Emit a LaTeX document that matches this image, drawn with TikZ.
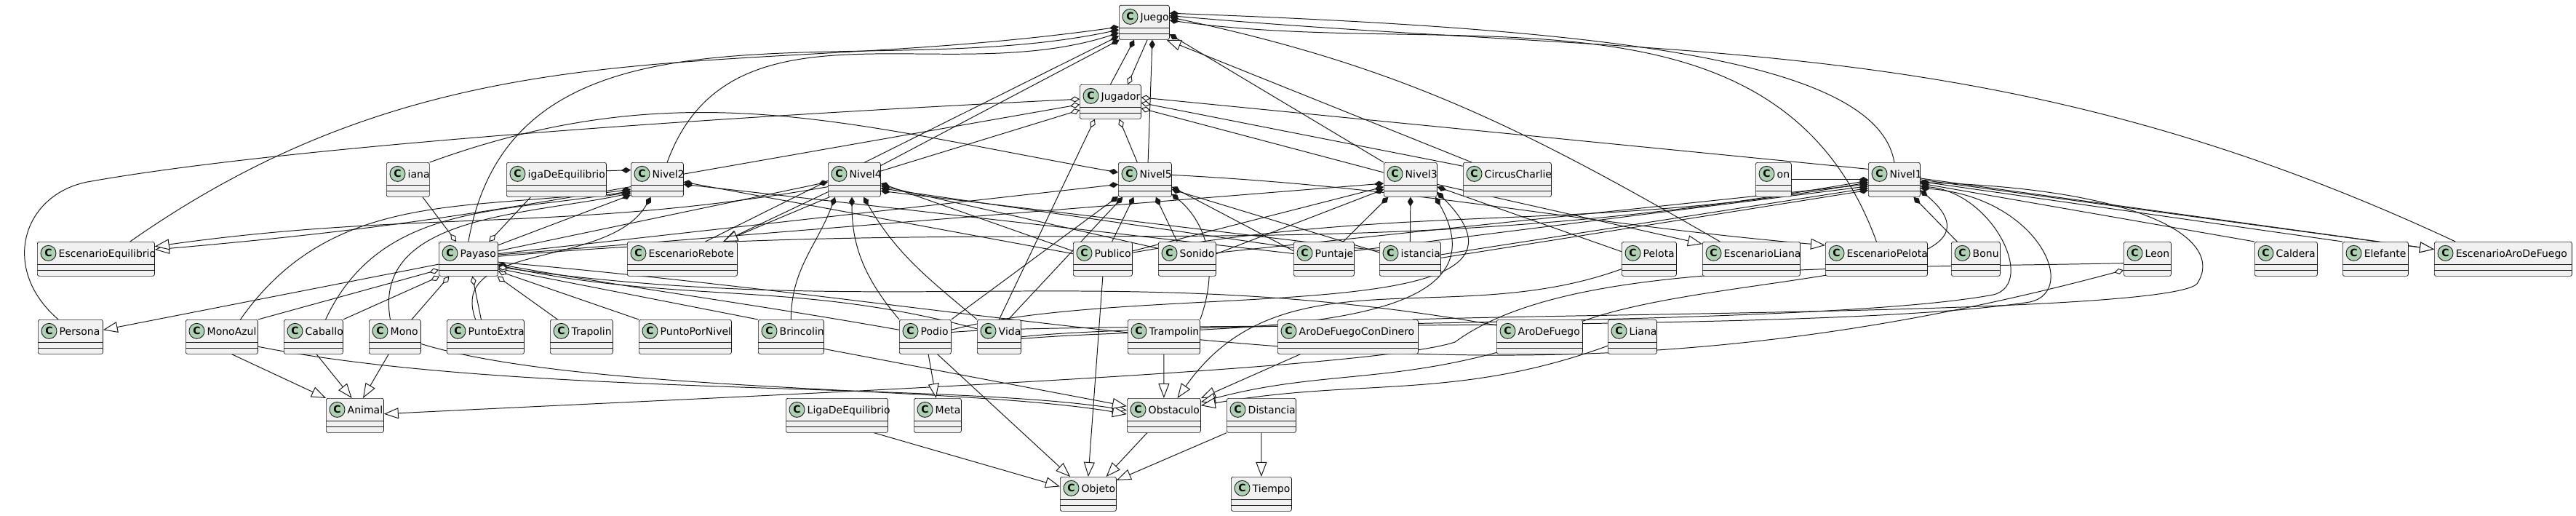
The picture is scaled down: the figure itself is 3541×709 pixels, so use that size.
\documentclass[tikz,border=0pt]{standalone}
\usepackage{fontspec}
\setmainfont{DejaVu Sans}
\usetikzlibrary{arrows.meta,calc}

\definecolor{boxfill}{HTML}{F1F1F1}
\definecolor{clsline}{HTML}{181818}
\definecolor{badgefill}{HTML}{ADD1B2}
\definecolor{edgecol}{HTML}{181818}
\newcommand{\clsfont}{\fontsize{3.98pt}{4.8pt}\selectfont}
\pgfdeclarelayer{bg}
\pgfdeclarelayer{edges}
\pgfsetlayers{bg,edges,main}

\begin{document}
\begin{tikzpicture}[x=0.01cm,y=-0.01cm,
  umlclass/.style={draw=clsline,line width=0.2pt,fill=boxfill,rounded corners=0.025cm,minimum width=#1,minimum height=0.47cm,inner sep=0pt,anchor=north west,
    path picture={
      \draw[clsline,line width=0.2pt] ($(path picture bounding box.north west)+(0,31)$) -- ($(path picture bounding box.north east)+(0,31)$);
      \draw[clsline,line width=0.2pt] ($(path picture bounding box.north west)+(0,39)$) -- ($(path picture bounding box.north east)+(0,39)$);
    },
    label={[cbadge]west:C}},
  cbadge/.style={circle,draw=clsline,line width=0.25pt,fill=badgefill,minimum size=0.21cm,inner sep=0pt,anchor=center,xshift=0.155cm,yshift=0.08cm,font=\clsfont\bfseries},
  cname/.style={anchor=west,xshift=0.29cm,yshift=0.065cm,inner sep=0pt,font=\clsfont,text height=0.105cm,text depth=0.03cm},
  edge/.style={draw=edgecol,line width=0.28pt},
  comp/.style={edge,{Diamond[length=0.13cm,width=0.08cm,fill=edgecol]}-},
  aggr/.style={edge,{Diamond[length=0.13cm,width=0.08cm,fill=white]}-},
  inh/.style={edge,-{Triangle[length=0.2cm,width=0.15cm,fill=white]}}]

\begin{pgfonlayer}{bg}
\fill[white] (0,0) rectangle (3541,709);
\end{pgfonlayer}
\useasboundingbox (0,0) rectangle (3541,709);

% top rows
\node[umlclass=0.69cm,label={[cname]west:Juego}] (Juego) at (1538,7) {};
\node[umlclass=0.84cm,label={[cname]west:Jugador}] (Jugador) at (1484,116) {};
\node[umlclass=0.59cm,label={[cname]west:iana}] (iana) at (531,223) {};
\node[umlclass=1.37cm,label={[cname]west:igaDeEquilibrio}] (igaDeEquilibrio) at (696,223) {};
\node[umlclass=0.72cm,label={[cname]west:Nivel2}] (Nivel2) at (867,223) {};
\node[umlclass=0.72cm,label={[cname]west:Nivel4}] (Nivel4) at (1138,223) {};
\node[umlclass=0.73cm,label={[cname]west:Nivel5}] (Nivel5) at (1537,223) {};
\node[umlclass=0.73cm,label={[cname]west:Nivel3}] (Nivel3) at (1902,223) {};
\node[umlclass=1.21cm,label={[cname]west:CircusCharlie}] (CircusCharlie) at (2011,223) {};
\node[umlclass=0.49cm,label={[cname]west:on}] (on) at (2413,223) {};
\node[umlclass=0.71cm,label={[cname]west:Nivel1}] (Nivel1) at (2568,223) {};

% middle row
\node[umlclass=1.61cm,label={[cname]west:EscenarioEquilibrio}] (EscenarioEquilibrio) at (51,332) {};
\node[umlclass=0.81cm,label={[cname]west:Payaso}] (Payaso) at (603,332) {};
\node[umlclass=1.51cm,label={[cname]west:EscenarioRebote}] (EscenarioRebote) at (862,332) {};
\node[umlclass=0.81cm,label={[cname]west:Publico}] (Publico) at (1475,332) {};
\node[umlclass=0.79cm,label={[cname]west:Sonido}] (Sonido) at (1592,332) {};
\node[umlclass=0.83cm,label={[cname]west:Puntaje}] (Puntaje) at (1778,332) {};
\node[umlclass=0.84cm,label={[cname]west:istancia}] (istancia) at (1896,332) {};
\node[umlclass=0.75cm,label={[cname]west:Pelota}] (Pelota) at (2229,332) {};
\node[umlclass=1.34cm,label={[cname]west:EscenarioLiana}] (EscenarioLiana) at (2340,332) {};
\node[umlclass=1.40cm,label={[cname]west:EscenarioPelota}] (EscenarioPelota) at (2509,332) {};
\node[umlclass=0.67cm,label={[cname]west:Bonu}] (Bonu) at (2682,332) {};
\node[umlclass=0.65cm,label={[cname]west:Leon}] (Leon) at (2919,332) {};
\node[umlclass=0.86cm,label={[cname]west:Caldera}] (Caldera) at (3099,332) {};
\node[umlclass=0.90cm,label={[cname]west:Elefante}] (Elefante) at (3220,332) {};
\node[umlclass=1.89cm,label={[cname]west:EscenarioAroDeFuego}] (EscenarioAroDeFuego) at (3346,332) {};

% lower rows
\node[umlclass=0.89cm,label={[cname]west:Persona}] (Persona) at (52,439) {};
\node[umlclass=0.99cm,label={[cname]west:MonoAzul}] (MonoAzul) at (255,439) {};
\node[umlclass=0.81cm,label={[cname]west:Caballo}] (Caballo) at (390,439) {};
\node[umlclass=0.71cm,label={[cname]west:Mono}] (Mono) at (507,439) {};
\node[umlclass=1.06cm,label={[cname]west:PuntoExtra}] (PuntoExtra) at (614,439) {};
\node[umlclass=0.86cm,label={[cname]west:Trapolin}] (Trapolin) at (756,439) {};
\node[umlclass=1.27cm,label={[cname]west:PuntoPorNivel}] (PuntoPorNivel) at (878,439) {};
\node[umlclass=0.90cm,label={[cname]west:Brincolin}] (Brincolin) at (1042,439) {};
\node[umlclass=0.71cm,label={[cname]west:Podio}] (Podio) at (1236,439) {};
\node[umlclass=0.60cm,label={[cname]west:Vida}] (Vida) at (1343,439) {};
\node[umlclass=0.99cm,label={[cname]west:Trampolin}] (Trampolin) at (1550,439) {};
\node[umlclass=1.93cm,label={[cname]west:AroDeFuegoConDinero}] (AroDeFuegoConDinero) at (1756,439) {};
\node[umlclass=1.18cm,label={[cname]west:AroDeFuego}] (AroDeFuego) at (2057,439) {};
\node[umlclass=0.67cm,label={[cname]west:Liana}] (Liana) at (2210,439) {};
\node[umlclass=0.79cm,label={[cname]west:Animal}] (Animal) at (448,547) {};
\node[umlclass=1.40cm,label={[cname]west:LigaDeEquilibrio}] (LigaDeEquilibrio) at (1080,547) {};
\node[umlclass=0.65cm,label={[cname]west:Meta}] (Meta) at (1256,547) {};
\node[umlclass=1.01cm,label={[cname]west:Obstaculo}] (Obstaculo) at (1549,547) {};
\node[umlclass=0.95cm,label={[cname]west:Distancia}] (Distancia) at (1686,547) {};
\node[umlclass=0.77cm,label={[cname]west:Objeto}] (Objeto) at (1457,655) {};
\node[umlclass=0.83cm,label={[cname]west:Tiempo}] (Tiempo) at (1692,655) {};

\begin{pgfonlayer}{edges}
% Juego
\draw[comp] (Juego.190) to[out=188,in=35] (EscenarioEquilibrio.27);
\draw[comp] (Juego.196) to[out=192,in=80] (Payaso.north);
\draw[comp] (Juego.202) to[out=198,in=70] (Nivel2.60);
\draw[comp] (Juego.208) -- (EscenarioRebote.37);
\draw[comp] (Juego.215) -- (Nivel4.28);
\draw[comp] (Juego.240) -- (Jugador.north);
\draw[aggr] (Jugador.45) -- (Juego.280);
\draw[comp] (Juego.295) -- (Nivel5.80);
\draw[comp] (Juego.335) -- (Nivel3.north west);
\draw[inh] (CircusCharlie.154) -- (Juego.322);
\draw[comp] (Juego.12) to[out=-12,in=150] (EscenarioLiana.151);
\draw[comp] (Juego.20) .. controls (2200,40) and (2580,80) .. (Nivel1.north);
\draw[comp] (Juego.5) to[out=-8,in=110] (EscenarioPelota.north);
\draw[comp] (Juego.15) to[out=-5,in=155] (EscenarioAroDeFuego.160);
% Jugador
\draw[aggr] (Jugador.175) .. controls (1000,160) and (400,200) .. (120,250) .. controls (30,268) and (0,370) .. (Persona.125);
\draw[aggr] (Jugador.185) -- (Nivel2.12);
\draw[aggr] (Jugador.195) -- (Nivel4.18);
\draw[aggr] (Jugador.8) -- (Nivel1.158);
\draw[aggr] (Jugador.-2) -- (CircusCharlie.163);
\draw[aggr] (Jugador.-12) -- (Nivel3.165);
\draw[aggr] (Jugador.228) -- (Vida.north);
\draw[aggr] (Jugador.-63) -- (Nivel5.114);
% Nivel1
\draw[comp] (Nivel1.west) -- (on.east);
\draw[comp] (Nivel1.-42) -- (Bonu.137);
\draw[comp] (Nivel1.-8) -- (Caldera.north west);
\draw[comp] (Nivel1.-4) -- (Elefante.north west);
\draw[inh] (Nivel1.0) -- (EscenarioAroDeFuego.172);
\draw[inh] (Nivel1.3) -- (EscenarioAroDeFuego.172);
\draw[comp] (Nivel1.198) -- (istancia.8);
\draw[comp] (Nivel1.202) -- (istancia.2);
\draw[comp] (Nivel1.194) -- (Puntaje.15);
\draw[comp] (Nivel1.190) -- (Sonido.12);
\draw[comp] (Nivel1.186) to[out=190,in=10] (Publico.12);
\draw[comp] (Nivel1.182) to[out=190,in=5] (Payaso.5);
\draw[comp] (Nivel1.-14) .. controls (2740,265) and (2800,390) .. (2740,405) .. controls (2500,450) and (1600,440) .. (Vida.east);
\draw[comp] (Nivel1.-18) .. controls (2800,270) and (2860,400) .. (2790,415) .. controls (2500,460) and (1500,440) .. (Podio.10);
\draw[comp] (Nivel1.-6) .. controls (2950,260) and (3060,330) .. (3020,390) .. controls (2980,430) and (2200,430) .. (AroDeFuegoConDinero.15);
\draw[comp] (Nivel1.-22) to[out=-40,in=20] (AroDeFuego.20);
% Nivel2
\draw[comp] (Nivel2.160) -- (igaDeEquilibrio.10);
\draw[comp] (Nivel2.205) -- (igaDeEquilibrio.-18);
\draw[inh] (Nivel2.195) to[out=190,in=5] (EscenarioEquilibrio.9);
\draw[comp] (Nivel2.210) -- (Payaso.25);
\draw[comp] (Nivel2.200) to[out=188,in=55] (MonoAzul.43);
\draw[comp] (Nivel2.203) to[out=190,in=65] (Caballo.55);
\draw[comp] (Nivel2.207) to[out=192,in=100] (Mono.105);
\draw[comp] (Nivel2.250) to[out=240,in=110] (PuntoExtra.120);
\draw[comp] (Nivel2.-5) -- (Publico.170);
\draw[comp] (Nivel2.-10) -- (Puntaje.170);
% Nivel4
\draw[inh] (Nivel4.205) -- (EscenarioRebote.23);
\draw[inh] (Nivel4.215) -- (EscenarioRebote.23);
\draw[inh] (Nivel4.195) to[out=190,in=8] (EscenarioEquilibrio.12);
\draw[comp] (Nivel4.222) to[out=250,in=90] (Brincolin.north);
\draw[comp] (Nivel4.262) to[out=270,in=130] (Podio.north west);
\draw[comp] (Nivel4.-62) to[out=-60,in=140] (Vida.north west);
\draw[comp] (Nivel4.185) -- (Payaso.15);
\draw[comp] (Nivel4.-8) -- (Publico.165);
\draw[comp] (Nivel4.-13) -- (Sonido.160);
\draw[comp] (Nivel4.-18) -- (Puntaje.160);
\draw[comp] (Nivel4.-23) -- (istancia.165);
% Nivel5
\draw[comp] (Nivel5.165) to[out=170,in=20] (iana.north east);
\draw[comp] (Nivel5.190) -- (Payaso.10);
\draw[comp] (Nivel5.237) -- (Publico.62);
\draw[comp] (Nivel5.-58) -- (Sonido.120);
\draw[comp] (Nivel5.212) -- (Podio.north east);
\draw[comp] (Nivel5.218) -- (Vida.62);
\draw[comp] (Nivel5.-28) to[out=-40,in=70] (Trampolin.north east);
\draw[comp] (Nivel5.-15) -- (Puntaje.165);
\draw[comp] (Nivel5.-20) -- (istancia.168);
\draw[inh] (Nivel5.10) to[out=-3,in=175] (EscenarioPelota.165);
% Nivel3
\draw[comp] (Nivel3.188) -- (Payaso.8);
\draw[comp] (Nivel3.195) -- (Publico.15);
\draw[comp] (Nivel3.200) -- (Sonido.10);
\draw[comp] (Nivel3.218) -- (Puntaje.42);
\draw[comp] (Nivel3.south) -- (istancia.north);
\draw[comp] (Nivel3.-15) -- (Pelota.165);
\draw[inh] (Nivel3.-10) -- (EscenarioLiana.163);
\draw[comp] (Nivel3.-35) to[out=-60,in=5] (Vida.-5);
\draw[comp] (Nivel3.-25) to[out=-45,in=15] (Podio.15);
% Payaso
\draw[aggr] (Payaso.125) -- (iana.-50);
\draw[aggr] (Payaso.40) -- (igaDeEquilibrio.-146);
\draw[inh] (Payaso.190) -- (Persona.12);
\draw[aggr] (Payaso.200) -- (MonoAzul.north east);
\draw[aggr] (Payaso.211) -- (Caballo.north east);
\draw[aggr] (Payaso.222) -- (Mono.46);
\draw[aggr] (Payaso.283) -- (PuntoExtra.104);
\draw[aggr] (Payaso.-31) -- (Trapolin.144);
\draw[aggr] (Payaso.-22) -- (PuntoPorNivel.north west);
\draw[aggr] (Payaso.-18) -- (Brincolin.north west);
\draw[comp] (Payaso.-10) to[out=-10,in=170] (Podio.165);
\draw[comp] (Payaso.-12) to[out=-12,in=165] (Vida.160);
\draw[aggr] (Payaso.-15) to[out=-8,in=170] (AroDeFuego.165);
\draw[aggr] (Leon.205) to[out=195,in=-5] (Payaso.-6);
% inheritance
\draw[inh] (MonoAzul.-60) -- (Animal.north west);
\draw[inh] (Caballo.-80) -- (Animal.100);
\draw[inh] (Mono.-110) -- (Animal.65);
\draw[inh] (Leon.190) .. controls (2500,370) and (2150,360) .. (2000,470) .. controls (1880,510) and (1000,545) .. (Animal.3);
\draw[inh] (MonoAzul.-15) .. controls (700,545) and (1300,525) .. (Obstaculo.172);
\draw[inh] (Mono.-15) .. controls (800,540) and (1320,530) .. (Obstaculo.178);
\draw[inh] (Brincolin.-20) -- (Obstaculo.166);
\draw[inh] (Trampolin.south) -- (Obstaculo.north);
\draw[inh] (Pelota.200) to[out=200,in=55] (Obstaculo.52);
\draw[inh] (AroDeFuegoConDinero.200) -- (Obstaculo.25);
\draw[inh] (AroDeFuego.200) to[out=195,in=15] (Obstaculo.20);
\draw[inh] (Liana.200) to[out=200,in=10] (Obstaculo.15);
\draw[inh] (Podio.-80) -- (Meta.95);
\draw[inh] (Podio.-55) -- (Objeto.136);
\draw[inh] (Publico.south) -- (Objeto.north);
\draw[inh] (Obstaculo.226) -- (Objeto.44);
\draw[inh] (LigaDeEquilibrio.-25) -- (Objeto.165);
\draw[inh] (Distancia.south west) -- (Objeto.26);
\draw[inh] (Distancia.south) -- (Tiempo.north);
\end{pgfonlayer}
\end{tikzpicture}
\end{document}
